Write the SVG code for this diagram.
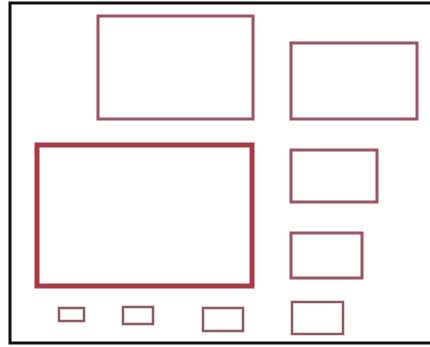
<svg xmlns="http://www.w3.org/2000/svg" width="430" height="347" viewBox="0 0 430 347">
<style>
.n{fill:none;stroke:#9c5360;stroke-width:3}
.big{fill:none;stroke:#a83a48;stroke-width:5}
.s{fill:none;stroke:#8e5a5e;stroke-width:2.5}
</style>
<rect x="0" y="0" width="430" height="347" fill="#ffffff"/>
<rect x="10" y="3" width="430" height="340" fill="none" stroke="#111" stroke-width="3"/>
<g id="nodeA"><rect class="n" x="98" y="16" width="155" height="103"/></g>
<g id="nodeB"><rect class="n" x="291" y="43" width="126" height="76"/></g>
<g id="nodeC"><rect class="big" x="37" y="145" width="215" height="141"/></g>
<g id="nodeD"><rect class="n" x="291" y="150" width="86" height="52"/></g>
<g id="nodeE"><rect class="n" x="291" y="233" width="71" height="45"/></g>
<g id="nodeF"><rect class="s" x="292" y="302" width="51" height="32"/></g>
<g id="nodeG1"><rect class="s" x="59" y="308" width="25" height="13" fill="#f8d8d8"/></g>
<g id="nodeG2"><rect class="s" x="123" y="307" width="30" height="17"/></g>
<g id="nodeG3"><rect class="s" x="203" y="308" width="40" height="23"/></g>
<g id="connectors"></g>
</svg>
